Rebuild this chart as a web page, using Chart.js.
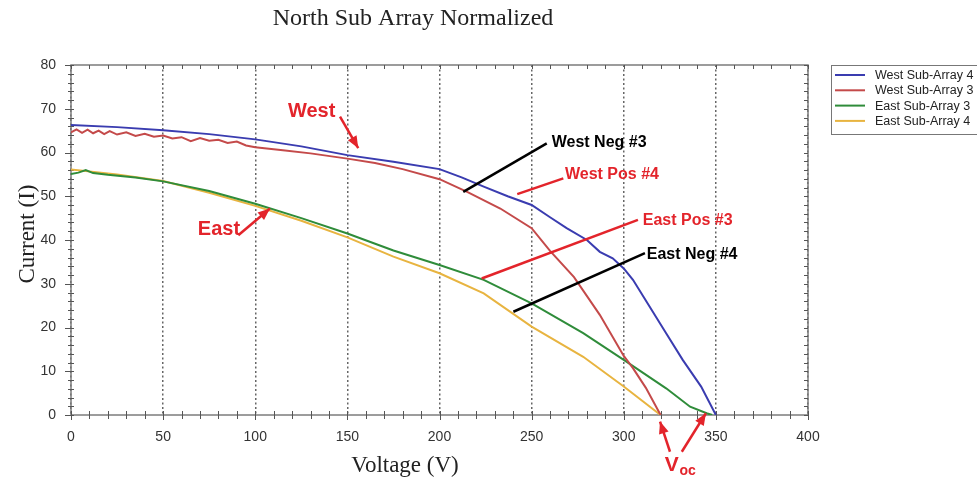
<!DOCTYPE html>
<html>
<head>
<meta charset="utf-8">
<script src="https://cdn.jsdelivr.net/npm/chart.js@4"></script>
<style>
  html, body { margin: 0; padding: 0; background: #fff; }
</style>
</head>
<body>
<canvas id="iv" width="977" height="486"></canvas>
<script>
// voltage (V) / current (I), one pair of arrays per sub-array
const westV4 = [0, 25, 50, 75, 100, 125, 150, 175, 200, 212, 224, 237, 250, 260, 269, 280, 287, 294, 300, 305, 314, 323, 332, 342, 350];
const westI4 = [66.3, 65.8, 65.1, 64.2, 63.0, 61.4, 59.4, 57.9, 56.2, 54.3, 52.2, 50.0, 48.0, 45.2, 42.7, 40.0, 37.3, 35.8, 33.5, 30.9, 24.8, 18.7, 12.6, 6.5, 0];

const westV3 = [0, 3, 6, 9, 12, 15, 18, 21, 25, 30, 35, 40, 45, 50, 55, 60, 65, 70, 75, 80, 85, 90, 95, 100, 115, 130, 150, 165, 180, 200, 215, 233, 250, 260, 273, 287, 300, 305, 312, 320];
const westI3 = [64.6, 65.3, 64.5, 65.2, 64.4, 65.0, 64.2, 64.9, 64.1, 64.6, 63.8, 64.3, 63.6, 63.9, 63.2, 63.5, 62.6, 63.3, 62.7, 62.9, 62.2, 62.5, 61.6, 61.2, 60.5, 59.8, 58.6, 57.6, 56.2, 53.9, 51.0, 47.2, 42.7, 37.5, 31.5, 22.9, 13.5, 10.7, 6.2, 0];

const eastV3 = [0, 4, 8, 12, 20, 35, 50, 75, 100, 125, 150, 175, 200, 224, 250, 278, 300, 323, 336, 345, 348];
const eastI3 = [55.1, 55.4, 56.0, 55.3, 54.9, 54.3, 53.4, 51.2, 48.3, 45.0, 41.5, 37.6, 34.3, 30.9, 25.5, 18.7, 12.6, 6.1, 1.9, 0.4, 0];

const eastV4 = [0, 25, 50, 75, 100, 125, 150, 175, 200, 224, 250, 278, 300, 320];
const eastI4 = [56.1, 55.0, 53.5, 50.8, 47.8, 44.4, 40.6, 36.2, 32.4, 27.8, 20.2, 13.3, 6.5, 0];

const seriesNames = ['West Sub-Array 4', 'West Sub-Array 3', 'East Sub-Array 3', 'East Sub-Array 4'];
const seriesColors = ['#3a3cb0', '#c44a4a', '#2f8c3a', '#e8b440'];

const RED = '#e3242b';
// callouts, placed in volts / amps so they follow the axes
const notes = [
  { text: 'West', color: RED, size: 20, align: 'center', at: [130.6, 69.3], from: [146, 68.2], to: [155.9, 61.0], head: true },
  { text: 'East', color: RED, size: 20, align: 'center', at: [80.3, 42.3], from: [90.8, 41.1], to: [108, 47.2], head: true },
  { text: 'West Neg #3', color: '#000', size: 16, align: 'left', at: [260.9, 62.2], from: [212.9, 51.0], to: [258.2, 62.1] },
  { text: 'West Pos #4', color: RED, size: 16, align: 'left', at: [268.1, 54.9], from: [242.2, 50.5], to: [267.2, 54.1] },
  { text: 'East Pos #3', color: RED, size: 16, align: 'left', at: [310.3, 44.4], from: [222.9, 31.2], to: [307.7, 44.6] },
  { text: 'East Neg #4', color: '#000', size: 16, align: 'left', at: [312.5, 36.6], from: [240.1, 23.6], to: [311.5, 37.0] },
  { text: '', color: RED, from: [325.1, -8.4], to: [319.7, -1.5], head: true },
  { text: '', color: RED, from: [331.5, -8.4], to: [344.6, 0.4], head: true }
];

function pairs(vs, is) {
  return vs.map((v, i) => ({ x: v, y: is[i] }));
}

function arrowHead(ctx, x1, y1, x2, y2) {
  const a = Math.atan2(y2 - y1, x2 - x1);
  ctx.beginPath();
  ctx.moveTo(x2, y2);
  ctx.lineTo(x2 - 12 * Math.cos(a) + 5 * Math.sin(a), y2 - 12 * Math.sin(a) - 5 * Math.cos(a));
  ctx.lineTo(x2 - 12 * Math.cos(a) - 5 * Math.sin(a), y2 - 12 * Math.sin(a) + 5 * Math.cos(a));
  ctx.closePath();
  ctx.fill();
}

const frame = {
  id: 'frame',
  beforeDatasetsDraw(chart) {
    const { ctx, chartArea: a, scales: { x, y } } = chart;
    ctx.save();
    ctx.strokeStyle = '#7c7c7c';
    ctx.lineWidth = 1.5;
    ctx.strokeRect(a.left, a.top, a.right - a.left, a.bottom - a.top);
    ctx.strokeStyle = '#555';
    ctx.lineWidth = 1;
    ctx.beginPath();
    for (let v = 0; v <= 400; v += 10) {
      const px = Math.round(x.getPixelForValue(v)) + 0.5;
      ctx.moveTo(px, a.bottom - 4); ctx.lineTo(px, a.bottom + (v % 50 === 0 ? 5 : 4));
      ctx.moveTo(px, a.top); ctx.lineTo(px, a.top + 4);
    }
    for (let v = 0; v <= 80; v += 2) {
      const py = Math.round(y.getPixelForValue(v)) + 0.5;
      ctx.moveTo(a.left - (v % 10 === 0 ? 6 : 3), py); ctx.lineTo(a.left + 3, py);
      ctx.moveTo(a.right - 4, py); ctx.lineTo(a.right, py);
    }
    ctx.stroke();
    ctx.restore();
  },
  afterDraw(chart) {
    const { ctx, chartArea: a, scales: { x, y } } = chart;
    ctx.save();
    // titles
    ctx.fillStyle = '#222';
    ctx.textAlign = 'center';
    ctx.textBaseline = 'middle';
    ctx.font = '24px "Liberation Serif", serif';
    ctx.fillText('North Sub Array Normalized', 413, 19);
    ctx.font = '23px "Liberation Serif", serif';
    ctx.fillText('Voltage (V)', 405, 466);
    ctx.save();
    ctx.translate(28, 234);
    ctx.rotate(-Math.PI / 2);
    ctx.fillText('Current (I)', 0, 0);
    ctx.restore();

    // callouts
    notes.forEach(n => {
      ctx.strokeStyle = n.color;
      ctx.fillStyle = n.color;
      ctx.lineWidth = 2.5;
      const x1 = x.getPixelForValue(n.from[0]), y1 = y.getPixelForValue(n.from[1]);
      const x2 = x.getPixelForValue(n.to[0]), y2 = y.getPixelForValue(n.to[1]);
      ctx.beginPath();
      ctx.moveTo(x1, y1);
      ctx.lineTo(x2, y2);
      ctx.stroke();
      if (n.head) arrowHead(ctx, x1, y1, x2, y2);
      if (n.text) {
        ctx.font = 'bold ' + n.size + 'px "Liberation Sans", Arial, sans-serif';
        ctx.textAlign = n.align;
        ctx.fillText(n.text, x.getPixelForValue(n.at[0]), y.getPixelForValue(n.at[1]));
      }
    });
    // V_oc label under the axis
    ctx.fillStyle = RED;
    ctx.textAlign = 'left';
    ctx.font = 'bold 21px "Liberation Sans", Arial, sans-serif';
    ctx.fillText('V', x.getPixelForValue(322.2), y.getPixelForValue(-11.4));
    ctx.font = 'bold 14px "Liberation Sans", Arial, sans-serif';
    ctx.fillText('oc', x.getPixelForValue(330.2), y.getPixelForValue(-12.9));

    // legend box, runs off the right edge like the original
    ctx.strokeStyle = '#777';
    ctx.lineWidth = 1;
    ctx.strokeRect(831.5, 65.5, 160, 69);
    ctx.font = '12.5px "Liberation Sans", Arial, sans-serif';
    chart.data.datasets.forEach((ds, i) => {
      const ry = 75 + i * 15.3;
      ctx.strokeStyle = ds.borderColor;
      ctx.lineWidth = 2;
      ctx.beginPath();
      ctx.moveTo(835, ry);
      ctx.lineTo(865, ry);
      ctx.stroke();
      ctx.fillStyle = '#222';
      ctx.fillText(ds.label, 875, ry + 0.5);
    });
    ctx.restore();
  }
};

const iv = document.getElementById('iv').getContext('2d');
const ivChart = new Chart(iv, {
  type: 'line',
  data: {
    datasets: [
      { label: seriesNames[0], data: pairs(westV4, westI4), borderColor: seriesColors[0] },
      { label: seriesNames[1], data: pairs(westV3, westI3), borderColor: seriesColors[1] },
      { label: seriesNames[2], data: pairs(eastV3, eastI3), borderColor: seriesColors[2] },
      { label: seriesNames[3], data: pairs(eastV4, eastI4), borderColor: seriesColors[3] }
    ].map(d => Object.assign(d, { borderWidth: 2, pointRadius: 0, fill: false, tension: 0 }))
  },
  options: {
    responsive: false,
    animation: false,
    layout: { padding: { top: 65, right: 169, left: 0, bottom: 0 } },
    plugins: {
      legend: { display: false },
      title: { display: false },
      tooltip: { enabled: false }
    },
    scales: {
      x: {
        type: 'linear',
        min: 0,
        max: 400,
        afterFit: s => { s.height = 71; },
        ticks: { stepSize: 50, padding: 14, color: '#333', font: { family: '"Liberation Sans", Arial', size: 14 } },
        grid: { color: '#666', lineWidth: 1.5, drawTicks: false },
        border: { display: false, dash: [2, 2.5] }
      },
      y: {
        min: 0,
        max: 80,
        afterFit: s => { s.width = 71; },
        ticks: { stepSize: 10, padding: 15, color: '#333', font: { family: '"Liberation Sans", Arial', size: 14 } },
        grid: { display: false, drawTicks: false },
        border: { display: false }
      }
    }
  },
  plugins: [frame]
});
</script>
</body>
</html>
